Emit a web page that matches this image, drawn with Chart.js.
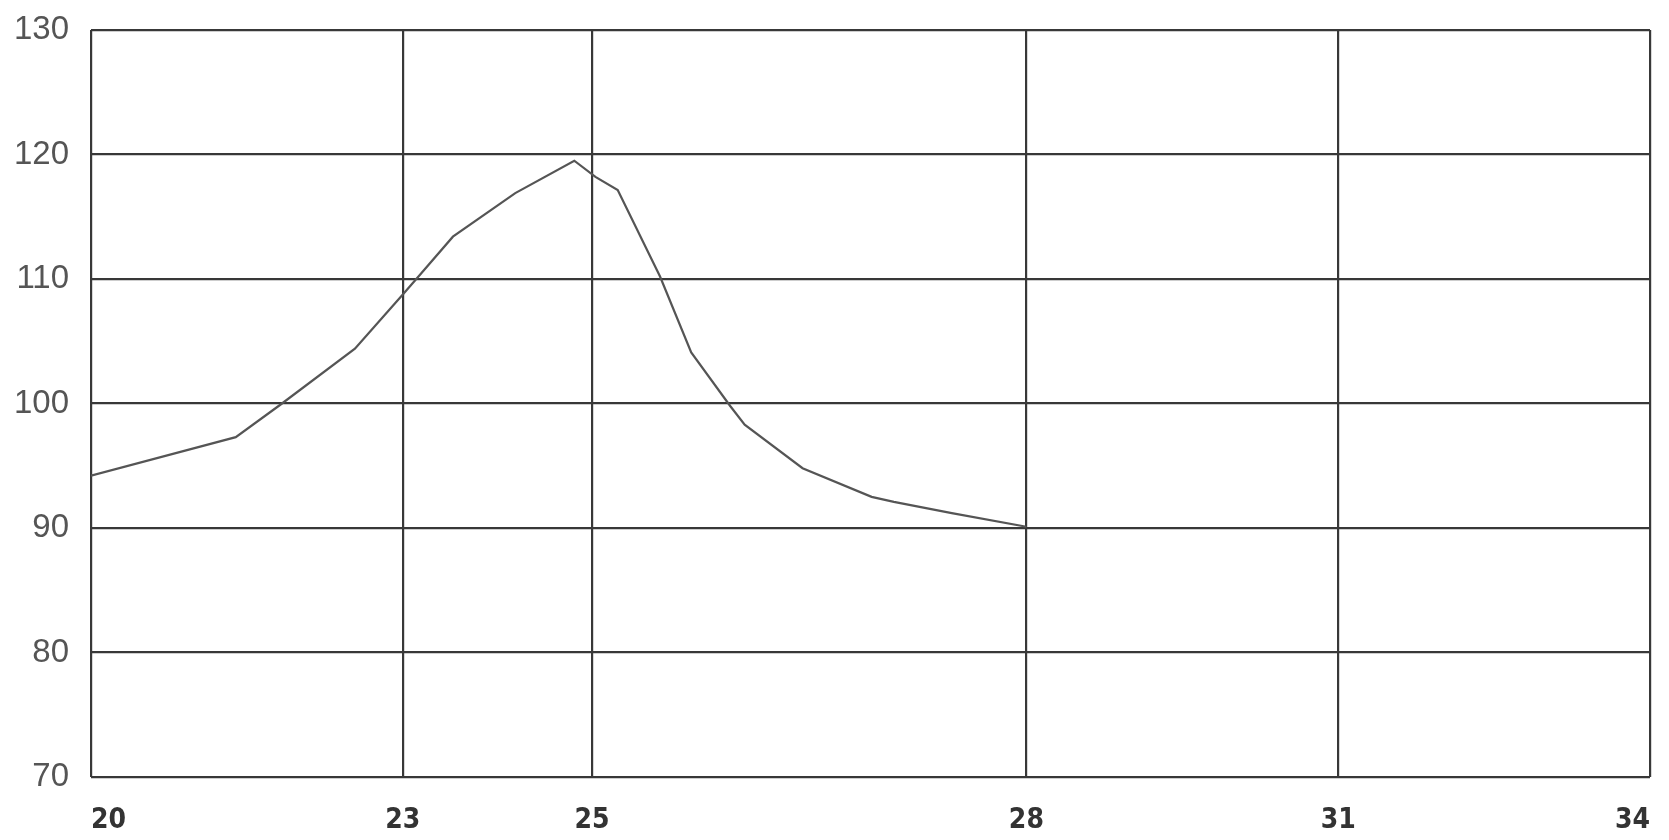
<!DOCTYPE html>
<html>
<head>
<meta charset="utf-8">
<script src="https://cdn.jsdelivr.net/npm/chart.js@4.4.1/dist/chart.umd.min.js"></script>
<style>
  html, body { margin: 0; padding: 0; background: #ffffff; }
  #wrap { width: 1669px; height: 840px; position: relative; }
</style>
</head>
<body>
<div id="wrap"><canvas id="c" width="1669" height="840"></canvas></div>
<script>
// ---- data ----
const xValues = [20, 21.3, 21.7, 22.37, 22.81, 22.97, 23.25, 23.81, 24.34, 24.53, 24.73, 25.11, 25.39, 25.74, 25.87, 26.39, 27.01, 27.21, 27.73, 28.4];
const yValues = [94.2, 97.3, 99.9, 104.4, 108.85, 110.5, 113.4, 116.9, 119.5, 118.2, 117.15, 110.2, 104.1, 99.8, 98.3, 94.8, 92.5, 92.1, 91.2, 90.1];
const xTickValues = [20, 22.8, 24.5, 28.4, 31.2, 34];
const xTickLabels = ['20', '23', '25', '28', '31', '34'];
const yTickValues = [70, 80, 90, 100, 110, 120, 130];

const points = xValues.map((x, i) => ({ x: x, y: yValues[i] }));

new Chart(document.getElementById('c'), {
  type: 'line',
  data: {
    datasets: [{
      data: points,
      borderColor: '#555555',
      borderWidth: 2.2,
      pointRadius: 0,
      tension: 0,
      fill: false
    }]
  },
  options: {
    responsive: false,
    animation: false,
    layout: { padding: { left: 0, right: 19, top: 30, bottom: 0 } },
    plugins: { legend: { display: false }, tooltip: { enabled: false } },
    scales: {
      x: {
        type: 'linear',
        min: xTickValues[0],
        max: xTickValues[xTickValues.length - 1],
        afterBuildTicks: (scale) => { scale.ticks = xTickValues.map(v => ({ value: v })); },
        afterFit: (scale) => { scale.height = 63; scale.paddingLeft = 0; scale.paddingRight = 0; },
        grid: { color: '#383838', lineWidth: 2.2, drawTicks: false },
        border: { display: false },
        ticks: {
          autoSkip: false,
          maxRotation: 0,
          align: 'inner',
          padding: 27,
          color: '#333333',
          font: { family: '"Liberation Sans Narrow", "DejaVu Sans Condensed", "Liberation Sans", sans-serif', size: 28, weight: 'bold' },
          callback: (v) => { const i = xTickValues.indexOf(v); return i >= 0 ? xTickLabels[i] : ''; }
        }
      },
      y: {
        type: 'linear',
        min: yTickValues[0],
        max: yTickValues[yTickValues.length - 1],
        afterBuildTicks: (scale) => { scale.ticks = yTickValues.map(v => ({ value: v })); },
        afterFit: (scale) => { scale.width = 91; scale.paddingTop = 0; scale.paddingBottom = 0; },
        grid: { color: '#383838', lineWidth: 2.2, drawTicks: false },
        border: { display: false },
        ticks: {
          padding: 22,
          color: '#555555',
          font: { family: '"Liberation Sans", Arial, sans-serif', size: 33 }
        }
      }
    }
  }
});
</script>
</body>
</html>
